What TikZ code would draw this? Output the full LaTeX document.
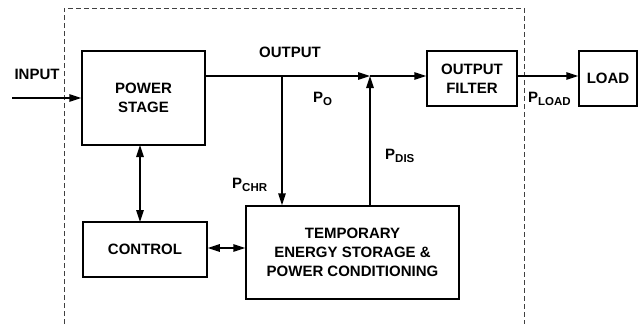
\documentclass[tikz,border=0pt]{standalone}
\usepackage{fontspec}
\setmainfont{Liberation Sans}
\usetikzlibrary{arrows.meta}
\newcommand\pwsub[1]{\raisebox{-0.45ex}{\fontsize{11.5}{13}\selectfont #1}}
\begin{document}
\begin{tikzpicture}[x=1pt,y=-1pt,
  font=\fontsize{15}{19}\selectfont\bfseries,
  blk/.style={draw,line width=1.5pt,align=center,inner sep=0pt},
  wire/.style={line width=1.5pt},
  tip/.style={-{Triangle[length=12pt,width=7.5pt]}},
  dtip/.style={{Triangle[length=12pt,width=7.5pt]}-{Triangle[length=12pt,width=7.5pt]}},
  lbl/.style={inner sep=0pt,align=center}]
\useasboundingbox (0,0) rectangle (644,324);
% dashed enclosure
\draw[line width=0.8pt,black!75,dash pattern=on 5pt off 3pt] (64,324) -- (64,8) -- (524,8) -- (524,324);
% blocks
\node[blk,minimum width=123pt,minimum height=94pt] (ps) at (143.5,98) {POWER\\STAGE};
\node[blk,minimum width=124pt,minimum height=55pt] (ctl) at (145,249.5) {CONTROL};
\node[blk,minimum width=213pt,minimum height=93pt] (tes) at (352.5,252.5) {TEMPORARY\\ENERGY STORAGE \&\\POWER CONDITIONING};
\node[blk,minimum width=90pt,minimum height=55pt] (flt) at (472,78.5) {OUTPUT\\FILTER};
\node[blk,minimum width=58pt,minimum height=55pt] (load) at (608,78.5) {LOAD};
% coordinates
\coordinate (in) at (12,98);
\coordinate (jc) at (282,76);
\coordinate (jd) at (370,76);
% connectors
\draw[wire,tip] (in) -- (ps.west |- in);
\draw[wire] (ps.east |- jc) -- (jc);
\draw[wire,tip] (jc) -- (jd);
\draw[wire,tip] (jd) -- (flt.west |- jd);
\draw[wire,tip] (jc) -- (jc |- tes.north);
\draw[wire,tip] (jd |- tes.north) -- (jd);
\draw[wire,tip] (flt.east |- jd) -- (load.west |- jd);
\draw[wire,dtip] (140,145) -- (140,222);
\draw[wire,dtip] (ctl.east |- 0,248) -- (tes.west |- 0,248);
% labels
\node[lbl] (tin) at (37,74.5) {INPUT};
\node[lbl] (tout) at (290,52.5) {OUTPUT};
\node[lbl,anchor=base west] (tpo) at (313,102) {P\pwsub{O}};
\node[lbl,anchor=base west] (tpl) at (528,102) {P\pwsub{LOAD}};
\node[lbl,anchor=base west] (tpd) at (385,159) {P\pwsub{DIS}};
\node[lbl,anchor=base west] (tpc) at (232,188) {P\pwsub{CHR}};
\end{tikzpicture}
\end{document}
